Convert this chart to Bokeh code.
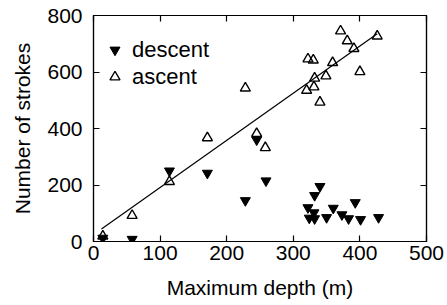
from bokeh.plotting import figure
from bokeh.models import (LinearAxis, FixedTicker, Range1d, Legend, LegendItem,
                          CustomJSTickFormatter)
from bokeh.embed import file_html
from bokeh.resources import INLINE

# ---- data ----
desc_depth = [14, 58, 114, 171, 228, 245, 259, 322, 324, 331, 332, 332, 340, 350, 360, 373, 383, 393, 401, 428]
desc_strokes = [12, 8, 250, 242, 145, 360, 215, 120, 83, 102, 81, 163, 195, 85, 118, 95, 81, 138, 78, 85]

asc_depth = [14, 58, 114, 171, 228, 245, 258, 320, 322, 330, 331, 332, 340, 349, 359, 371, 381, 391, 400, 426]
asc_strokes = [19, 92, 212, 367, 543, 382, 332, 535, 646, 642, 547, 578, 493, 586, 633, 745, 710, 683, 601, 727]

fit_intercept = 24.0
fit_slope = 1.67

x_ticks = [0, 100, 200, 300, 400, 500]
y_ticks = [0, 200, 400, 600, 800]

FONT = "Liberation Sans"

p = figure(width=447, height=305, output_backend="svg", toolbar_location=None,
           x_range=Range1d(0, 500), y_range=Range1d(0, 800),
           min_border_left=93, min_border_right=21, min_border_top=15, min_border_bottom=64,
           x_axis_label="Maximum depth (m)", y_axis_label="Number of strokes")
p.xgrid.visible = False
p.ygrid.visible = False
p.outline_line_color = "black"
p.outline_line_width = 1.2
p.background_fill_color = "white"
p.border_fill_color = "white"

for ax in p.xaxis:
    ax.ticker = FixedTicker(ticks=x_ticks)
for ax in p.yaxis:
    ax.ticker = FixedTicker(ticks=y_ticks)

for ax in list(p.xaxis) + list(p.yaxis):
    ax.major_tick_in = 6
    ax.major_tick_out = 0
    ax.minor_tick_in = 0
    ax.minor_tick_out = 0
    ax.axis_line_color = "black"
    ax.axis_line_width = 1.2
    ax.major_tick_line_width = 1.2
    ax.major_label_text_font = FONT
    ax.major_label_text_font_size = "21px"
    ax.major_label_text_color = "black"
    ax.axis_label_text_font = FONT
    ax.axis_label_text_font_size = "21px"
    ax.axis_label_text_font_style = "normal"
    ax.axis_label_text_color = "black"

p.xaxis.major_label_standoff = 4
p.xaxis.axis_label_standoff = 13
p.yaxis.major_label_standoff = 11
p.yaxis.axis_label_standoff = 10

blank = CustomJSTickFormatter(code="return ''")
top = LinearAxis(ticker=FixedTicker(ticks=x_ticks), formatter=blank,
                 major_tick_in=6, major_tick_out=0, minor_tick_in=0, minor_tick_out=0,
                 major_label_standoff=0, major_label_text_font_size="0px",
                 axis_line_width=1.2, major_tick_line_width=1.2)
right = LinearAxis(ticker=FixedTicker(ticks=y_ticks), formatter=blank,
                   major_tick_in=6, major_tick_out=0, minor_tick_in=0, minor_tick_out=0,
                   major_label_standoff=0, major_label_text_font_size="0px",
                   axis_line_width=1.2, major_tick_line_width=1.2)
p.add_layout(top, "above")
p.add_layout(right, "right")

# regression line over the ascent depth range
fit_x = [min(asc_depth) - 2, max(asc_depth)]
fit_y = [fit_intercept + fit_slope * x for x in fit_x]
p.line(fit_x, fit_y, line_color="black", line_width=1.2)

r_desc = p.scatter(desc_depth, desc_strokes, marker="inverted_triangle", size=10,
                   fill_color="black", line_color="black", line_width=1)
r_asc = p.scatter(asc_depth, asc_strokes, marker="triangle", size=10,
                  fill_color=None, line_color="black", line_width=1.4)

legend = Legend(items=[LegendItem(label="descent", renderers=[r_desc]),
                       LegendItem(label="ascent", renderers=[r_asc])],
                location="top_left", margin=0, padding=0, spacing=0,
                glyph_width=25, glyph_height=27, label_height=27,
                label_standoff=5, border_line_color=None, background_fill_alpha=0,
                label_text_font=FONT, label_text_font_size="22px",
                label_text_color="black")
p.add_layout(legend, "center")
legend.location = (9, 151)

open("out.html", "w").write(file_html(p, INLINE))
